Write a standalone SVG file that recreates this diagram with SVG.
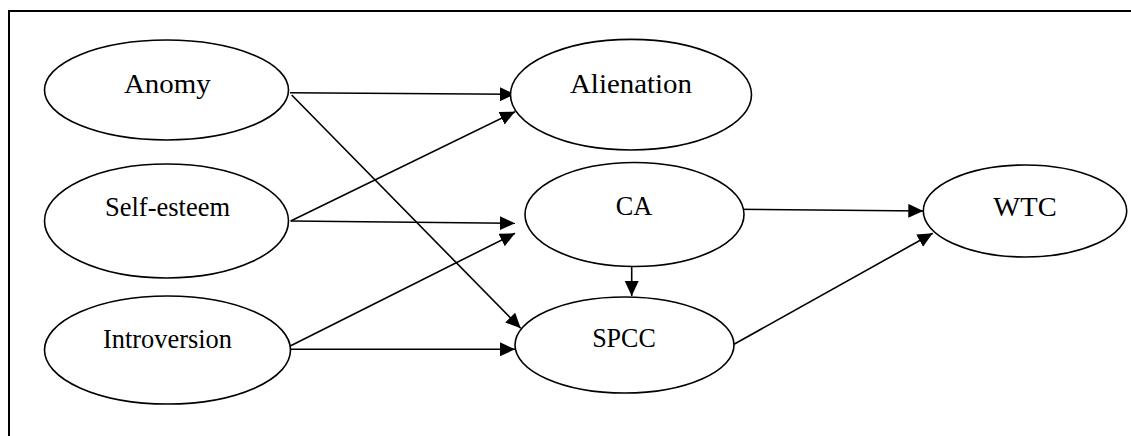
<svg xmlns="http://www.w3.org/2000/svg" width="1131" height="436" viewBox="0 0 1131 436">
<style>
.node ellipse { fill: #ffffff; stroke: #000000; stroke-width: 1.6; }
.node text { font-family: "Liberation Serif", "Times New Roman", serif; font-size: 28px; fill: #000000; text-anchor: middle; }
.edges line { stroke: #000000; stroke-width: 1.6; marker-end: url(#arrow); }
.frame { fill: none; stroke: #000000; stroke-width: 2; }
</style>
<defs>
<marker id="arrow" markerUnits="userSpaceOnUse" markerWidth="16" markerHeight="15" refX="15" refY="7" orient="auto">
<path d="M0,0 L15,7 L0,14 z" fill="#000000"/>
</marker>
</defs>
<rect width="1131" height="436" fill="#ffffff"/>
<path class="frame" d="M9,437 V11 H1132"/>
<g id="edges" class="edges">
<line x1="290" y1="92.7" x2="515" y2="94.3"/>
<line x1="291.7" y1="95" x2="520.7" y2="328.3"/>
<line x1="290.7" y1="221" x2="515" y2="111.7"/>
<line x1="290.7" y1="221" x2="515" y2="223.3"/>
<line x1="290.7" y1="345.7" x2="515" y2="233.3"/>
<line x1="290.7" y1="349.3" x2="515" y2="349.3"/>
<line x1="733.3" y1="209.3" x2="923.3" y2="211"/>
<line x1="631.7" y1="266.7" x2="631.7" y2="296"/>
<line x1="734" y1="344.3" x2="932.7" y2="233.3"/>
</g>
<g id="anomy" class="node">
<ellipse cx="166.5" cy="90" rx="122" ry="50"/>
<text x="167.3" y="92.7" textLength="86.7" lengthAdjust="spacingAndGlyphs">Anomy</text>
</g>
<g id="self-esteem" class="node">
<ellipse cx="166.5" cy="221" rx="122" ry="57"/>
<text x="167.5" y="216" textLength="125" lengthAdjust="spacingAndGlyphs">Self-esteem</text>
</g>
<g id="introversion" class="node">
<ellipse cx="167.5" cy="350" rx="123" ry="54"/>
<text x="167.5" y="347.7" textLength="129" lengthAdjust="spacingAndGlyphs">Introversion</text>
</g>
<g id="alienation" class="node">
<ellipse cx="631" cy="94.7" rx="120.5" ry="55.3"/>
<text x="631" y="93.3" textLength="122" lengthAdjust="spacingAndGlyphs">Alienation</text>
</g>
<g id="ca" class="node">
<ellipse cx="634.5" cy="214.5" rx="109.5" ry="52"/>
<text x="634" y="215" textLength="36.6" lengthAdjust="spacingAndGlyphs">CA</text>
</g>
<g id="spcc" class="node">
<ellipse cx="624.5" cy="345" rx="109.5" ry="48"/>
<text x="624" y="346.7" textLength="63.7" lengthAdjust="spacingAndGlyphs">SPCC</text>
</g>
<g id="wtc" class="node">
<ellipse cx="1025" cy="211" rx="101.7" ry="46"/>
<text x="1025" y="216" textLength="63.3" lengthAdjust="spacingAndGlyphs">WTC</text>
</g>
</svg>
